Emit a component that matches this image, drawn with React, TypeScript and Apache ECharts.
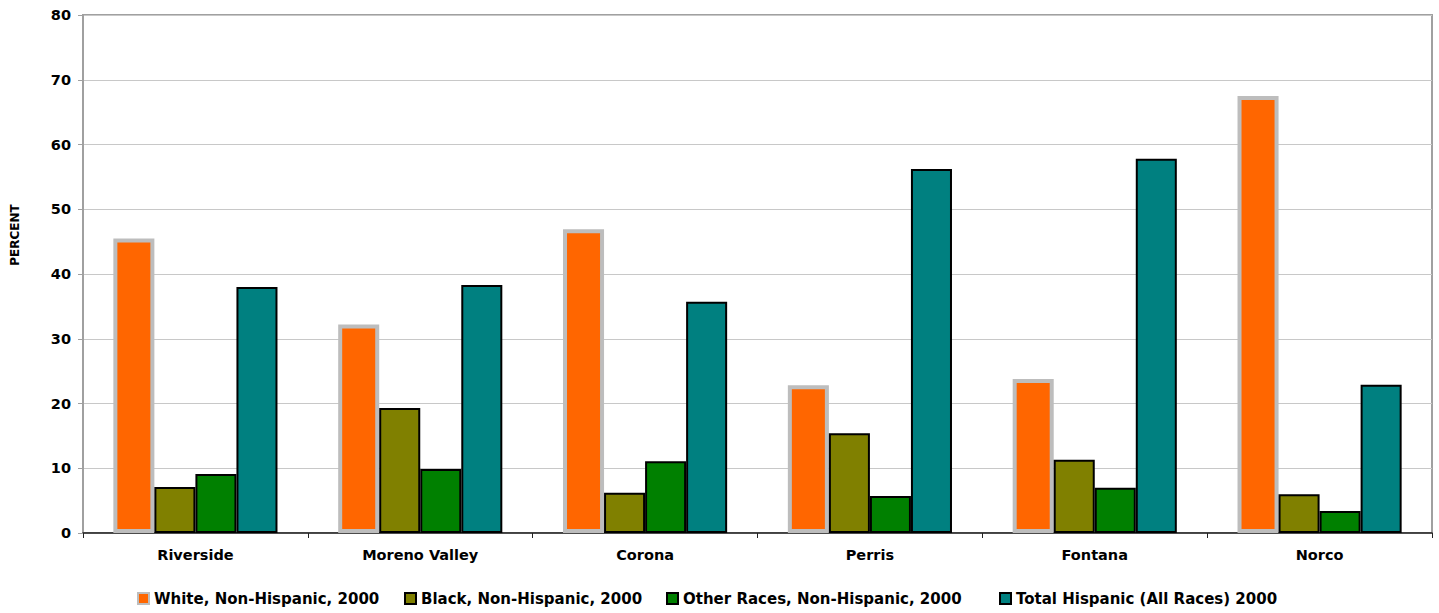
import React, { useEffect, useRef } from "react";
import * as echarts from "echarts";

const categories = ["Riverside", "Moreno Valley", "Corona", "Perris", "Fontana", "Norco"];
const seriesNames = [
  "White, Non-Hispanic, 2000",
  "Black, Non-Hispanic, 2000",
  "Other Races, Non-Hispanic, 2000",
  "Total Hispanic (All Races) 2000",
];
const whiteNonHispanic = [45.5, 32.2, 46.9, 22.8, 23.8, 67.5];
const blackNonHispanic = [7.1, 19.3, 6.2, 15.4, 11.3, 6.0];
const otherNonHispanic = [9.1, 9.9, 11.1, 5.7, 7.0, 3.4];
const totalHispanic = [38.0, 38.3, 35.7, 56.2, 57.8, 22.9];
const yTicks = { min: 0, max: 80, interval: 10 };

const FONT = "DejaVu Sans";
const legendLefts = [137, 404, 666, 999];

export default function App() {
  const ref = useRef<HTMLDivElement>(null);
  useEffect(() => {
    if (!ref.current) return;
    const chart = echarts.init(ref.current, undefined, { renderer: "svg" });
    const barBorder = { borderColor: "#000", borderWidth: 2 };
    chart.setOption({
      animation: false,
      backgroundColor: "#fff",
      grid: {
        left: 83,
        right: 7,
        top: 15,
        bottom: 80,
        show: true,
        borderColor: "#a0a0a0",
        borderWidth: 2,
        backgroundColor: "transparent",
      },
      legend: seriesNames.map((name, i) => ({
        left: legendLefts[i],
        top: 591,
        padding: 0,
        itemWidth: 11,
        itemHeight: 11,
        icon: "rect",
        textStyle: { fontFamily: FONT, fontWeight: "bold", fontSize: 15, color: "#000" },
        data: [name],
      })),
      xAxis: {
        type: "category",
        data: categories,
        axisLine: { lineStyle: { color: "#222", width: 1.5 } },
        axisTick: { show: true, length: 5, lineStyle: { color: "#222" } },
        axisLabel: { fontFamily: FONT, fontWeight: "bold", fontSize: 14.5, color: "#000", margin: 14 },
      },
      yAxis: {
        type: "value",
        min: yTicks.min,
        max: yTicks.max,
        interval: yTicks.interval,
        axisLine: { show: true, lineStyle: { color: "#a0a0a0", width: 2 } },
        axisTick: { show: true, length: 5, lineStyle: { color: "#a0a0a0" } },
        axisLabel: { fontFamily: FONT, fontWeight: "bold", fontSize: 14.5, color: "#000", margin: 12 },
        splitLine: { lineStyle: { color: "#c8c8c8", width: 1 } },
      },
      graphic: [
        {
          type: "text",
          x: 15,
          y: 235,
          rotation: Math.PI / 2,
          style: {
            text: "PERCENT",
            fontFamily: FONT,
            fontWeight: "bold",
            fontSize: 12,
            fill: "#000",
            align: "center",
            verticalAlign: "middle",
          },
        },
      ],
      series: [
        {
          name: seriesNames[0],
          type: "bar",
          data: whiteNonHispanic,
          barGap: "0%",
          barCategoryGap: "27%",
          itemStyle: { color: "#FF6600", borderColor: "#bdbdbd", borderWidth: 4 },
        },
        {
          name: seriesNames[1],
          type: "bar",
          data: blackNonHispanic,
          itemStyle: { color: "#808000", ...barBorder },
        },
        {
          name: seriesNames[2],
          type: "bar",
          data: otherNonHispanic,
          itemStyle: { color: "#008000", ...barBorder },
        },
        {
          name: seriesNames[3],
          type: "bar",
          data: totalHispanic,
          itemStyle: { color: "#008080", ...barBorder },
        },
      ],
    });
    return () => chart.dispose();
  }, []);
  return (
    <div
      ref={ref}
      style={{ position: "fixed", left: 0, top: 0, width: 1439, height: 613 }}
    />
  );
}
